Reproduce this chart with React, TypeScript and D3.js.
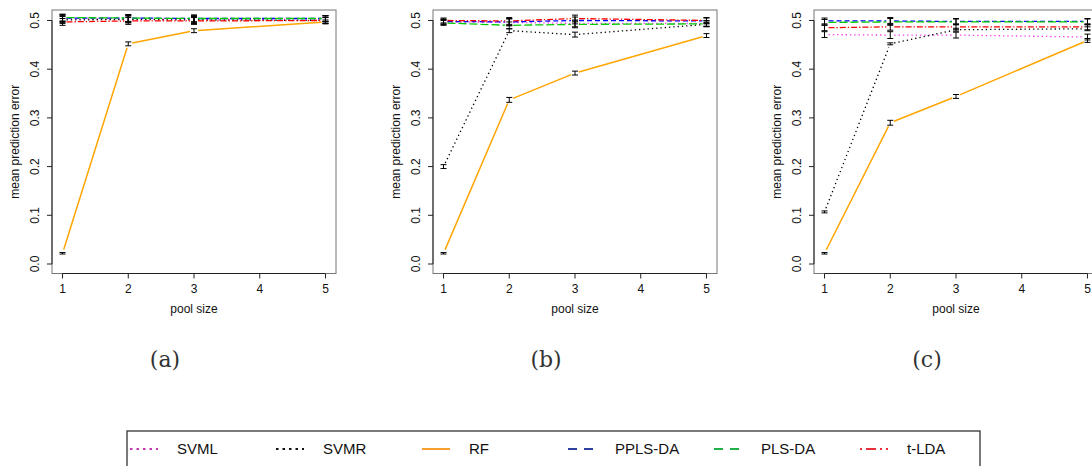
import React from 'react';
import * as d3 from 'd3';

// pool sizes measured (no pool size 4)
const poolSizes = [1, 2, 3, 5];
const axisTicksX = [1, 2, 3, 4, 5];
const axisTicksY = [0, 0.1, 0.2, 0.3, 0.4, 0.5];
const methods = ['SVML', 'SVMR', 'RF', 'PPLS-DA', 'PLS-DA', 't-LDA'];
const panelLabels = ['(a)', '(b)', '(c)'];

// panel (a)
const aSVML = [0.503, 0.503, 0.502, 0.503];
const aSVMR = [0.501, 0.502, 0.501, 0.5];
const aRF = [0.022, 0.452, 0.479, 0.497];
const aPPLS = [0.505, 0.505, 0.504, 0.504];
const aPLS = [0.506, 0.505, 0.504, 0.504];
const aTLDA = [0.497, 0.499, 0.499, 0.5];
const aSE = [0.007, 0.007, 0.007, 0.006];
const aSERF = [0.0015, 0.004, 0.004, 0.004];

// panel (b)
const bSVML = [0.497, 0.496, 0.494, 0.494];
const bSVMR = [0.2, 0.479, 0.471, 0.492];
const bRF = [0.022, 0.337, 0.392, 0.469];
const bPPLS = [0.498, 0.497, 0.5, 0.499];
const bPLS = [0.495, 0.49, 0.492, 0.493];
const bTLDA = [0.5, 0.499, 0.504, 0.5];
const bSE = [0.005, 0.007, 0.007, 0.006];
const bSESVMR = [0.004, 0.004, 0.005, 0.004];
const bSERF = [0.0015, 0.005, 0.004, 0.004];

// panel (c)
const cSVML = [0.471, 0.47, 0.47, 0.466];
const cSVMR = [0.107, 0.452, 0.481, 0.483];
const cRF = [0.022, 0.29, 0.344, 0.459];
const cPPLS = [0.499, 0.499, 0.498, 0.498];
const cPLS = [0.496, 0.497, 0.497, 0.497];
const cTLDA = [0.485, 0.487, 0.487, 0.487];
const cSE = [0.006, 0.007, 0.006, 0.006];
const cSESVMR = [0.002, 0.002, 0.003, 0.004];
const cSERF = [0.0015, 0.005, 0.004, 0.004];

const panels = [
  { series: [aSVML, aSVMR, aRF, aPPLS, aPLS, aTLDA], se: [aSE, aSE, aSERF, aSE, aSE, aSE] },
  { series: [bSVML, bSVMR, bRF, bPPLS, bPLS, bTLDA], se: [bSE, bSESVMR, bSERF, bSE, bSE, bSE] },
  { series: [cSVML, cSVMR, cRF, cPPLS, cPLS, cTLDA], se: [cSE, cSESVMR, cSERF, cSE, cSE, cSE] },
];

const lineColors = ['#ff33ee', '#000000', '#ffa500', '#0000ff', '#00cc00', '#ff0000'];
const legendColors = ['#c837b0', '#111111', '#f5a030', '#2e3f9c', '#22b04a', '#e8303c'];
const dashes = ['1.3 3', '1.3 3', null, '5 3', '8 3', '6 2 1.3 2'];
const legendDashes = ['2.5 4', '2.5 4', null, '9 7', '9 7', '2 4 10 4'];

const W = 1092, H = 466;
const panelDx = 381;
const font = 'Liberation Sans, Arial, Helvetica, sans-serif';

const x = d3.scaleLinear().domain([0.84, 5.16]).range([52, 336]);
const y = d3.scaleLinear().domain([-0.0195, 0.5215]).range([273.5, 10]);

// type="b" style: leave a small gap around each point
function gappedPath(vals: number[]) {
  const gap = 4;
  let d = '';
  for (let i = 0; i < vals.length - 1; i++) {
    const x0 = x(poolSizes[i]), y0 = y(vals[i]);
    const x1 = x(poolSizes[i + 1]), y1 = y(vals[i + 1]);
    const len = Math.hypot(x1 - x0, y1 - y0);
    const ux = (x1 - x0) / len, uy = (y1 - y0) / len;
    d += `M${x0 + ux * gap},${y0 + uy * gap}L${x1 - ux * gap},${y1 - uy * gap}`;
  }
  return d;
}

function Panel({ idx }: { idx: number }) {
  const p = panels[idx];
  const [x0, x1] = x.range();
  const [yb, yt] = y.range();
  return (
    <g transform={`translate(${idx * panelDx},0)`}>
      {p.series.map((vals, k) => (
        <path key={'l' + k} d={gappedPath(vals)} fill="none" stroke={lineColors[k]}
          strokeWidth={k === 2 ? 1.5 : 1.3} strokeDasharray={dashes[k] ?? undefined} />
      ))}
      {p.series.map((vals, k) => (
        <g key={'e' + k} stroke="#000" strokeWidth={1}>
          {vals.map((v, i) => {
            const cx = x(poolSizes[i]);
            const lo = y(v - p.se[k][i]), hi = y(v + p.se[k][i]);
            return (
              <g key={i}>
                <line x1={cx} x2={cx} y1={lo} y2={hi} />
                <line x1={cx - 3} x2={cx + 3} y1={lo} y2={lo} />
                <line x1={cx - 3} x2={cx + 3} y1={hi} y2={hi} />
              </g>
            );
          })}
        </g>
      ))}
      <rect x={x0} y={yt} width={x1 - x0} height={yb - yt} fill="none" stroke="#777" strokeWidth={1} />
      {/* x axis */}
      <line x1={x(1)} x2={x(5)} y1={yb} y2={yb} stroke="#222" strokeWidth={1} />
      {axisTicksX.map(t => (
        <g key={t}>
          <line x1={x(t)} x2={x(t)} y1={yb} y2={yb + 5} stroke="#222" />
          <text x={x(t)} y={yb + 19} textAnchor="middle" fontSize={12} fontFamily={font} fill="#111">{t}</text>
        </g>
      ))}
      {/* y axis */}
      <line x1={x0} x2={x0} y1={y(0)} y2={y(0.5)} stroke="#222" strokeWidth={1} />
      {axisTicksY.map(t => (
        <g key={t}>
          <line x1={x0} x2={x0 - 5} y1={y(t)} y2={y(t)} stroke="#222" />
          <text transform={`translate(${x0 - 13},${y(t)}) rotate(-90)`} textAnchor="middle" fontSize={12}
            fontFamily={font} fill="#111">{d3.format('.1f')(t)}</text>
        </g>
      ))}
      <text x={(x0 + x1) / 2} y={313} textAnchor="middle" fontSize={12} fontFamily={font} fill="#111">pool size</text>
      <text transform={`translate(19,${(yb + yt) / 2}) rotate(-90)`} textAnchor="middle" fontSize={12}
        fontFamily={font} fill="#111">mean prediction error</text>
      <text x={165} y={367} textAnchor="middle" fontSize={22}
        fontFamily="DejaVu Serif, Liberation Serif, serif" fill="#333">{panelLabels[idx]}</text>
    </g>
  );
}

function Legend() {
  const lx = d3.scaleLinear().domain([0, 5]).range([130, 860]);
  const ly = 449;
  return (
    <g>
      <rect x={127} y={431} width={853} height={50} fill="#fff" stroke="#333" strokeWidth={1.3} />
      {methods.map((m, k) => (
        <g key={m}>
          <line x1={lx(k)} x2={lx(k) + 28} y1={ly} y2={ly} stroke={legendColors[k]} strokeWidth={2}
            strokeDasharray={legendDashes[k] ?? undefined} />
          <text x={lx(k) + 47} y={ly + 5} fontSize={15} fontFamily={font} fill="#111">{m}</text>
        </g>
      ))}
    </g>
  );
}

export default function App() {
  return (
    <svg width={W} height={H} style={{ position: 'absolute', left: 0, top: 0, background: '#fff' }}>
      <rect width={W} height={H} fill="#fff" />
      {panels.map((_, i) => <Panel key={i} idx={i} />)}
      <Legend />
    </svg>
  );
}
